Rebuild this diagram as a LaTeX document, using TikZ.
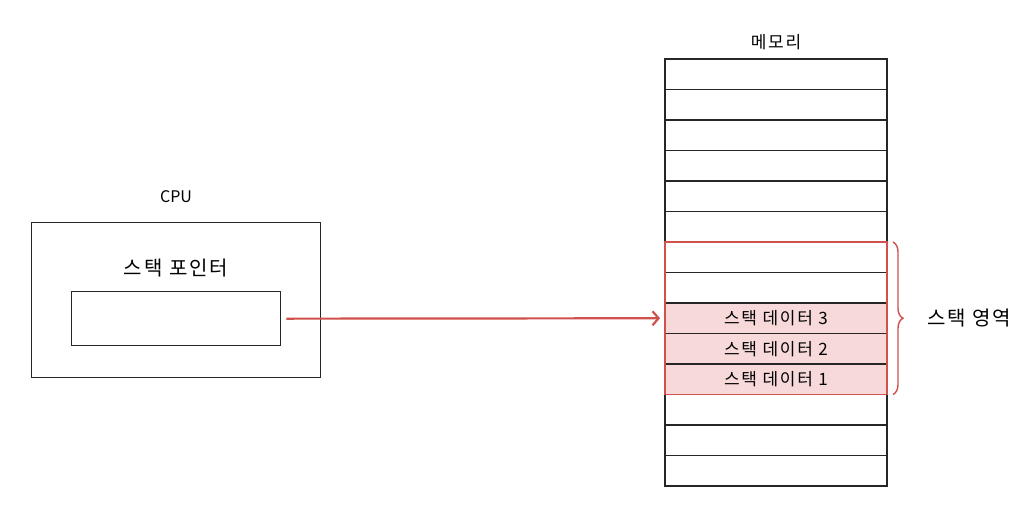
\documentclass[tikz,border=0pt]{standalone}
\usepackage{fontspec}
\setmainfont{Noto Sans CJK KR}
\newfontfamily\widekr[LetterSpace=10]{Noto Sans CJK KR}
\usetikzlibrary{decorations.pathreplacing,arrows.meta}
\definecolor{stackred}{HTML}{D0504C}
\definecolor{stackpink}{HTML}{F7D9DA}
\begin{document}
\begin{tikzpicture}[x=1pt,y=-1pt,
  box/.style={draw=black!85,line width=1.3pt},
  cell/.style={draw=black!85,line width=1.2pt,minimum width=222pt,minimum height=30.5pt,inner sep=0pt,outer sep=0pt,anchor=north west},
  filled/.style={cell,fill=stackpink},
  lbl/.style={inner sep=0pt},
  cellt/.style={font=\widekr\fontsize{17}{20}\selectfont}]
\useasboundingbox (0,0) rectangle (1035,520);
% CPU
\node[box,minimum width=289pt,minimum height=155pt,inner sep=0pt,anchor=north west] (cpu) at (31,222) {};
\node[lbl,font=\fontsize{16}{19}\selectfont] (cpul) at (176,197) {CPU};
\node[lbl,font=\widekr\fontsize{20}{23}\selectfont] (spl) at (176,268) {스택 포인터};
\node[box,minimum width=209pt,minimum height=54pt,inner sep=0pt,anchor=north west] (sp) at (71,291) {};
% memory
\node[lbl,font=\widekr\fontsize{17}{20}\selectfont] (meml) at (776,42) {메모리};
\foreach \i in {0,...,13}{
  \pgfmathsetmacro{\yy}{59+30.5*\i}
  \ifnum\i>7 \ifnum\i<11
    \node[filled] (m\i) at (665,\yy) {};
  \else
    \node[cell] (m\i) at (665,\yy) {};
  \fi\else
    \node[cell] (m\i) at (665,\yy) {};
  \fi
}
\node[cellt] at (m8) {스택 데이터 3};
\node[cellt] at (m9) {스택 데이터 2};
\node[cellt] at (m10) {스택 데이터 1};
\draw[draw=stackred,line width=1.5pt] (m6.north west) rectangle (m10.south east);
% brace
\draw[stackred,line width=1.4pt,decorate,decoration={brace,amplitude=10pt}]
  ([xshift=6pt]m6.north east) -- ([xshift=6pt]m10.south east);
\node[lbl,font=\widekr\fontsize{20}{23}\selectfont,anchor=west] (sa) at (927,318) {스택 영역};
% arrow
\draw[stackred,line width=2.2pt,-{Straight Barb[length=6pt,width=14pt]}] ([xshift=5pt]sp.east) -- ([xshift=-5pt]m8.west);
\end{tikzpicture}
\end{document}
